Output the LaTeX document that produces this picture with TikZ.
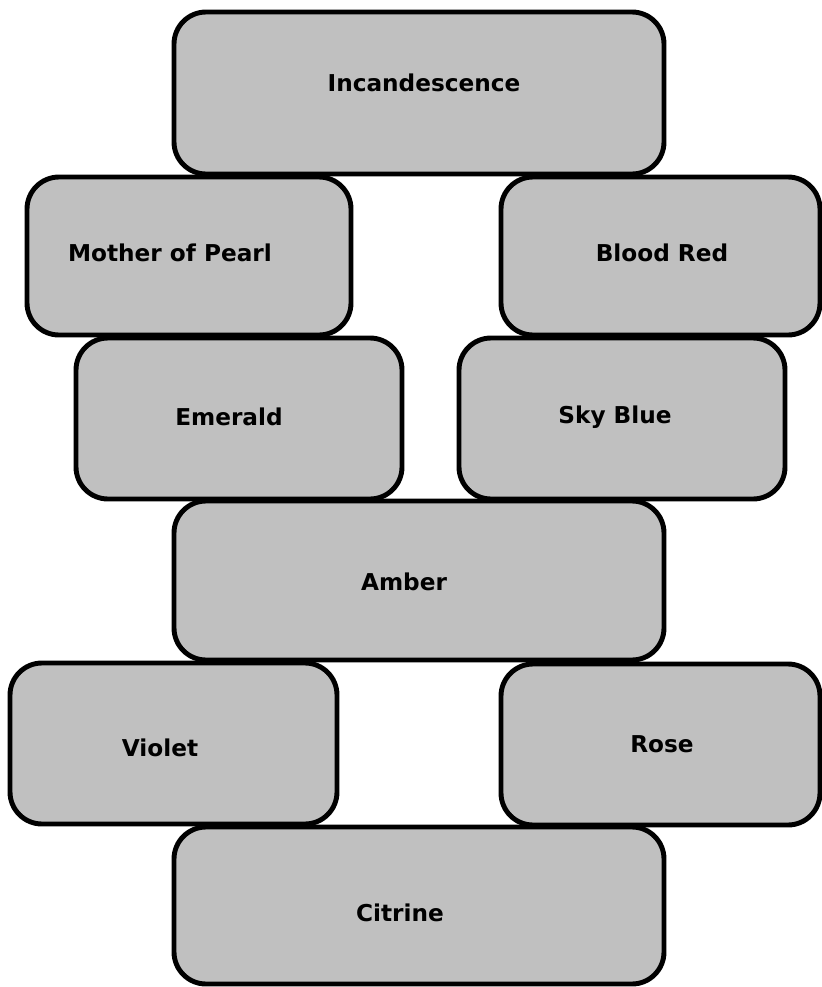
\documentclass[tikz,border=0pt]{standalone}
\usepackage{fontspec}
\setmainfont{DejaVu Sans}
\usepackage{xcolor}
\definecolor{brickgray}{HTML}{C0C0C0}
\tikzset{
  brick/.style={draw, fill=brickgray, line width=3.5pt, rounded corners=0.8cm, rectangle},
  bricktext/.style={draw=none, font=\fontsize{16.5}{19}\selectfont\bfseries}
}

\begin{document}
\begin{tikzpicture}
        \useasboundingbox (0,0) rectangle (20.55,-24.675);
        % 各段のブロック
        \node[brick, minimum width=12.25cm, minimum height=4.05cm] (Incandescence) at (10.475,-2.325) {};
        \node[brick, minimum width=8.1cm, minimum height=3.95cm] (Pearl) at (4.725,-6.4) {};
        \node[brick, minimum width=7.975cm, minimum height=3.95cm] (BloodRed) at (16.5125,-6.4) {};
        \node[brick, minimum width=8.15cm, minimum height=4.025cm] (Emerald) at (5.975,-10.4625) {};
        \node[brick, minimum width=8.15cm, minimum height=4.025cm] (SkyBlue) at (15.55,-10.4625) {};
        \node[brick, minimum width=12.25cm, minimum height=3.975cm] (Amber) at (10.475,-14.5125) {};
        \node[brick, minimum width=8.175cm, minimum height=4.025cm] (Violet) at (4.3375,-18.5875) {};
        \node[brick, minimum width=7.975cm, minimum height=4.025cm] (Rose) at (16.5125,-18.6125) {};
        \node[brick, minimum width=12.25cm, minimum height=3.925cm] (Citrine) at (10.475,-22.6375) {};
        % ラベル
        \node[bricktext] (IncandescenceText) at (10.6,-2.075) {Incandescence};
        \node[bricktext] (PearlText) at (4.25,-6.325) {Mother of Pearl};
        \node[bricktext] (BloodRedText) at (16.55,-6.325) {Blood Red};
        \node[bricktext] (EmeraldText) at (5.725,-10.425) {Emerald};
        \node[bricktext] (SkyBlueText) at (15.375,-10.425) {Sky Blue};
        \node[bricktext] (AmberText) at (10.1,-14.55) {Amber};
        \node[bricktext] (VioletText) at (4.0,-18.7) {Violet};
        \node[bricktext] (RoseText) at (16.55,-18.6) {Rose};
        \node[bricktext] (CitrineText) at (10.0,-22.825) {Citrine};
\end{tikzpicture}
\end{document}
